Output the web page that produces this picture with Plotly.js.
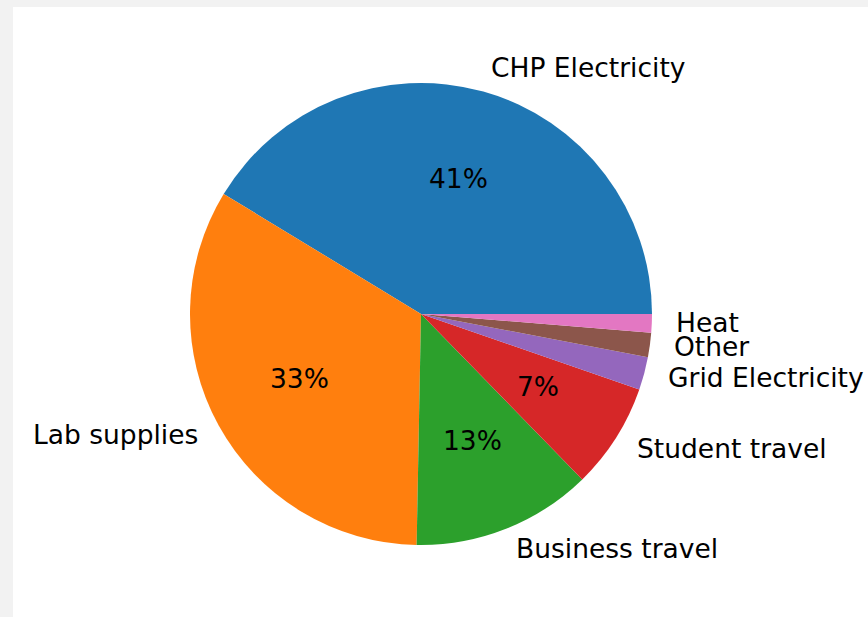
<!DOCTYPE html>
<html>
<head>
<meta charset="utf-8">
<script src="https://cdn.plot.ly/plotly-3.0.1.min.js"></script>
<style>
  html, body { margin: 0; padding: 0; background: #f2f2f2; width: 868px; height: 617px; overflow: hidden; }
  #chart { position: absolute; left: 13px; top: 7px; width: 855px; height: 610px; background: #ffffff; }
</style>
</head>
<body>
<div id="chart"></div>
<script>
const categories = ["CHP Electricity", "Lab supplies", "Business travel", "Student travel", "Grid Electricity", "Other", "Heat"];
const values = [41.3, 33.4, 12.6, 7.4, 2.3, 1.7, 1.3];
const colors = ["#1f77b4", "#ff7f0e", "#2ca02c", "#d62728", "#9467bd", "#8c564b", "#e377c2"];
const minPctShown = 5;

const total = values.reduce((a, b) => a + b, 0);
const fontFam = "DejaVu Sans, sans-serif";
const fontSize = 26.5;

// annotations computed from the data (matplotlib-like layout: start at 0°, counterclockwise)
const annotations = [];
let cum = 0;
values.forEach((v, i) => {
  const start = cum / total * 360;
  cum += v;
  const end = cum / total * 360;
  const mid = (start + end) / 2 * Math.PI / 180;
  const cx = Math.cos(mid), cy = Math.sin(mid);
  // outer label at 1.1 radius
  annotations.push({
    xref: "paper", yref: "paper",
    x: 0.5 + 0.5 * 1.1 * cx, y: 0.5 + 0.5 * 1.1 * cy,
    text: categories[i], showarrow: false,
    xanchor: cx >= 0 ? "left" : "right", yanchor: "middle",
    xshift: cx >= 0 ? -1 : 2, yshift: 2,
    font: { family: fontFam, size: fontSize, color: "#000000" }
  });
  const pct = v / total * 100;
  if (pct >= minPctShown) {
    annotations.push({
      xref: "paper", yref: "paper",
      x: 0.5 + 0.5 * 0.6 * cx, y: 0.5 + 0.5 * 0.6 * cy,
      text: Math.round(pct) + "%", showarrow: false,
      xanchor: "center", yanchor: "middle", yshift: 2,
      font: { family: fontFam, size: fontSize, color: "#000000" }
    });
  }
});

// Plotly measures rotation clockwise from 12 o'clock; in counterclockwise mode the
// first slice lies clockwise of the rotation point, so offset by its angular size
const firstSliceDeg = values[0] / total * 360;

const data = [{
  type: "pie",
  labels: categories,
  values: values,
  sort: false,
  direction: "counterclockwise",
  rotation: 90 - firstSliceDeg,
  textinfo: "none",
  hoverinfo: "skip",
  marker: { colors: colors, line: { width: 0 } },
  domain: { x: [0, 1], y: [0, 1] }
}];

const layout = {
  width: 855, height: 610,
  margin: { l: 177, r: 216, t: 76, b: 72 },
  paper_bgcolor: "#ffffff",
  showlegend: false,
  annotations: annotations,
  font: { family: fontFam }
};

Plotly.newPlot("chart", data, layout, { displayModeBar: false, staticPlot: true });
</script>
</body>
</html>
